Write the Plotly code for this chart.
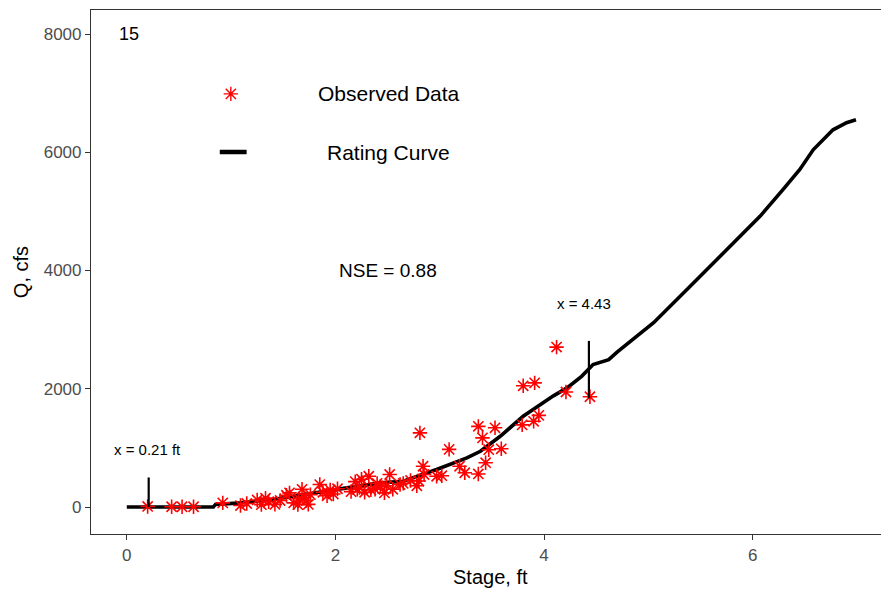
import plotly.graph_objects as go

# Observed stage (ft) and discharge (cfs) measurements
obs_stage = [0.20, 0.43, 0.53, 0.64, 0.92, 1.09, 1.15, 1.25, 1.29, 1.33, 1.36, 1.42,
             1.47, 1.53, 1.56, 1.60, 1.64, 1.65, 1.68, 1.70, 1.72, 1.74, 1.76, 1.85,
             1.88, 1.92, 1.95, 1.98, 2.02, 2.15, 2.19, 2.21, 2.23, 2.25, 2.28, 2.32,
             2.34, 2.38, 2.40, 2.43, 2.47, 2.49, 2.52, 2.55, 2.62, 2.65, 2.72, 2.78,
             2.80, 2.81, 2.84, 2.85, 2.97, 3.02, 3.09, 3.19, 3.24, 3.37, 3.37, 3.41,
             3.44, 3.47, 3.53, 3.59, 3.79, 3.80, 3.90, 3.91, 3.95, 4.12, 4.21, 4.44]
obs_q = [10, 5, 5, 5, 70, 25, 60, 120, 40, 150, 90, 45,
         110, 200, 240, 70, 40, 140, 300, 160, 110, 45, 210, 380,
         250, 190, 290, 220, 310, 260, 430, 300, 330, 470, 250, 520,
         290, 300, 400, 350, 240, 360, 550, 300, 380, 400, 450, 360,
         440, 1255, 690, 550, 520, 530, 975, 690, 580, 560, 1365, 1170,
         750, 970, 1340, 985, 1390, 2050, 1450, 2100, 1550, 2705, 1945, 1865]

# Rating curve (stage ft, discharge cfs)
curve_stage = [0.00, 0.83, 0.85, 1.09, 1.40, 1.79, 2.11, 2.43, 2.65, 2.97, 3.26, 3.39,
               3.58, 3.80, 4.09, 4.22, 4.36, 4.47, 4.55, 4.62, 4.70, 5.05, 5.37, 5.75,
               6.07, 6.29, 6.45, 6.58, 6.77, 6.90, 6.99]
curve_q = [0, 0, 45, 70, 127, 240, 324, 409, 436, 634, 831, 943,
           1197, 1535, 1880, 2015, 2211, 2409, 2460, 2493, 2620, 3117, 3679, 4354,
           4916, 5367, 5705, 6042, 6380, 6500, 6549]

# Marked stages with their vertical extent (cfs)
mark_stage = [0.21, 4.43]
mark_q_low = [0, 1840]
mark_q_high = [500, 2810]
mark_text = ["x = 0.21 ft", "x = 4.43"]
mark_text_pos = [(0.20, 980), (4.38, 3450)]

nse_text = "NSE = 0.88"
panel_text = "15"

x_ticks = [0, 2, 4, 6]
y_ticks = [0, 2000, 4000, 6000, 8000]

FONT = "Liberation Sans, Arial, sans-serif"
RED = "#FF0000"
AXIS = "#333333"
TICKTXT = "#4D4D4D"

fig = go.Figure()

fig.add_trace(go.Scatter(
    x=curve_stage, y=curve_q, mode="lines",
    line=dict(color="black", width=3.6), showlegend=False, hoverinfo="skip"))

fig.add_trace(go.Scatter(
    x=obs_stage, y=obs_q, mode="markers",
    marker=dict(symbol="asterisk-open", size=12, color=RED,
                line=dict(color=RED, width=1.6)),
    showlegend=False))

for xs, lo, hi in zip(mark_stage, mark_q_low, mark_q_high):
    fig.add_trace(go.Scatter(
        x=[xs, xs], y=[lo, hi], mode="lines",
        line=dict(color="black", width=2.2), showlegend=False, hoverinfo="skip"))

for txt, (tx, ty) in zip(mark_text, mark_text_pos):
    fig.add_annotation(x=tx, y=ty, text=txt, showarrow=False,
                       font=dict(family=FONT, size=15, color="black"))

fig.add_annotation(x=2.5, y=4000, text=nse_text, showarrow=False,
                   font=dict(family=FONT, size=19, color="black"))
fig.add_annotation(x=0.02, y=8000, text=panel_text, showarrow=False,
                   font=dict(family=FONT, size=18, color="black"))

# In-panel legend drawn on a hidden unit overlay
fig.add_trace(go.Scatter(
    x=[0.177], y=[0.840], mode="markers", xaxis="x2", yaxis="y2",
    marker=dict(symbol="asterisk-open", size=12, color=RED,
                line=dict(color=RED, width=1.4)),
    showlegend=False, hoverinfo="skip"))
fig.add_trace(go.Scatter(
    x=[0.163, 0.197], y=[0.729, 0.729], mode="lines", xaxis="x2", yaxis="y2",
    line=dict(color="black", width=4.5), showlegend=False, hoverinfo="skip"))
for txt, ly in [("Observed Data", 0.840), ("Rating Curve", 0.729)]:
    fig.add_annotation(x=0.377, y=ly, xref="x2", yref="y2", text=txt,
                       showarrow=False,
                       font=dict(family=FONT, size=21, color="black"))

# x-axis title, centred on the full panel width
fig.add_annotation(x=0.506, y=-0.083, xref="paper", yref="paper",
                   text="Stage, ft", showarrow=False, yanchor="middle",
                   font=dict(family=FONT, size=20, color="black"))

fig.update_layout(
    width=881, height=593,
    margin=dict(l=91, r=0, t=10, b=59),
    paper_bgcolor="white", plot_bgcolor="white",
    font=dict(family=FONT, color="black"),
    xaxis=dict(
        range=[-0.343, 7.23], tickvals=x_ticks, ticks="outside", ticklen=5,
        tickwidth=1.1, tickcolor=AXIS, showline=True, linecolor=AXIS,
        linewidth=1.2, mirror=True, showgrid=False, zeroline=False,
        tickfont=dict(family=FONT, size=17, color=TICKTXT)),
    yaxis=dict(
        range=[-456, 8406], tickvals=y_ticks, ticks="outside", ticklen=5,
        tickwidth=1.1, tickcolor=AXIS, showline=True, linecolor=AXIS,
        linewidth=1.2, mirror=False, showgrid=False, zeroline=False,
        tickfont=dict(family=FONT, size=17, color=TICKTXT),
        title=dict(text="Q, cfs", standoff=9,
                   font=dict(family=FONT, size=20, color="black"))),
    xaxis2=dict(range=[0, 1], overlaying="x", visible=False, fixedrange=True),
    yaxis2=dict(range=[0, 1], overlaying="y", visible=False, fixedrange=True),
)

fig.write_html("out.html")
